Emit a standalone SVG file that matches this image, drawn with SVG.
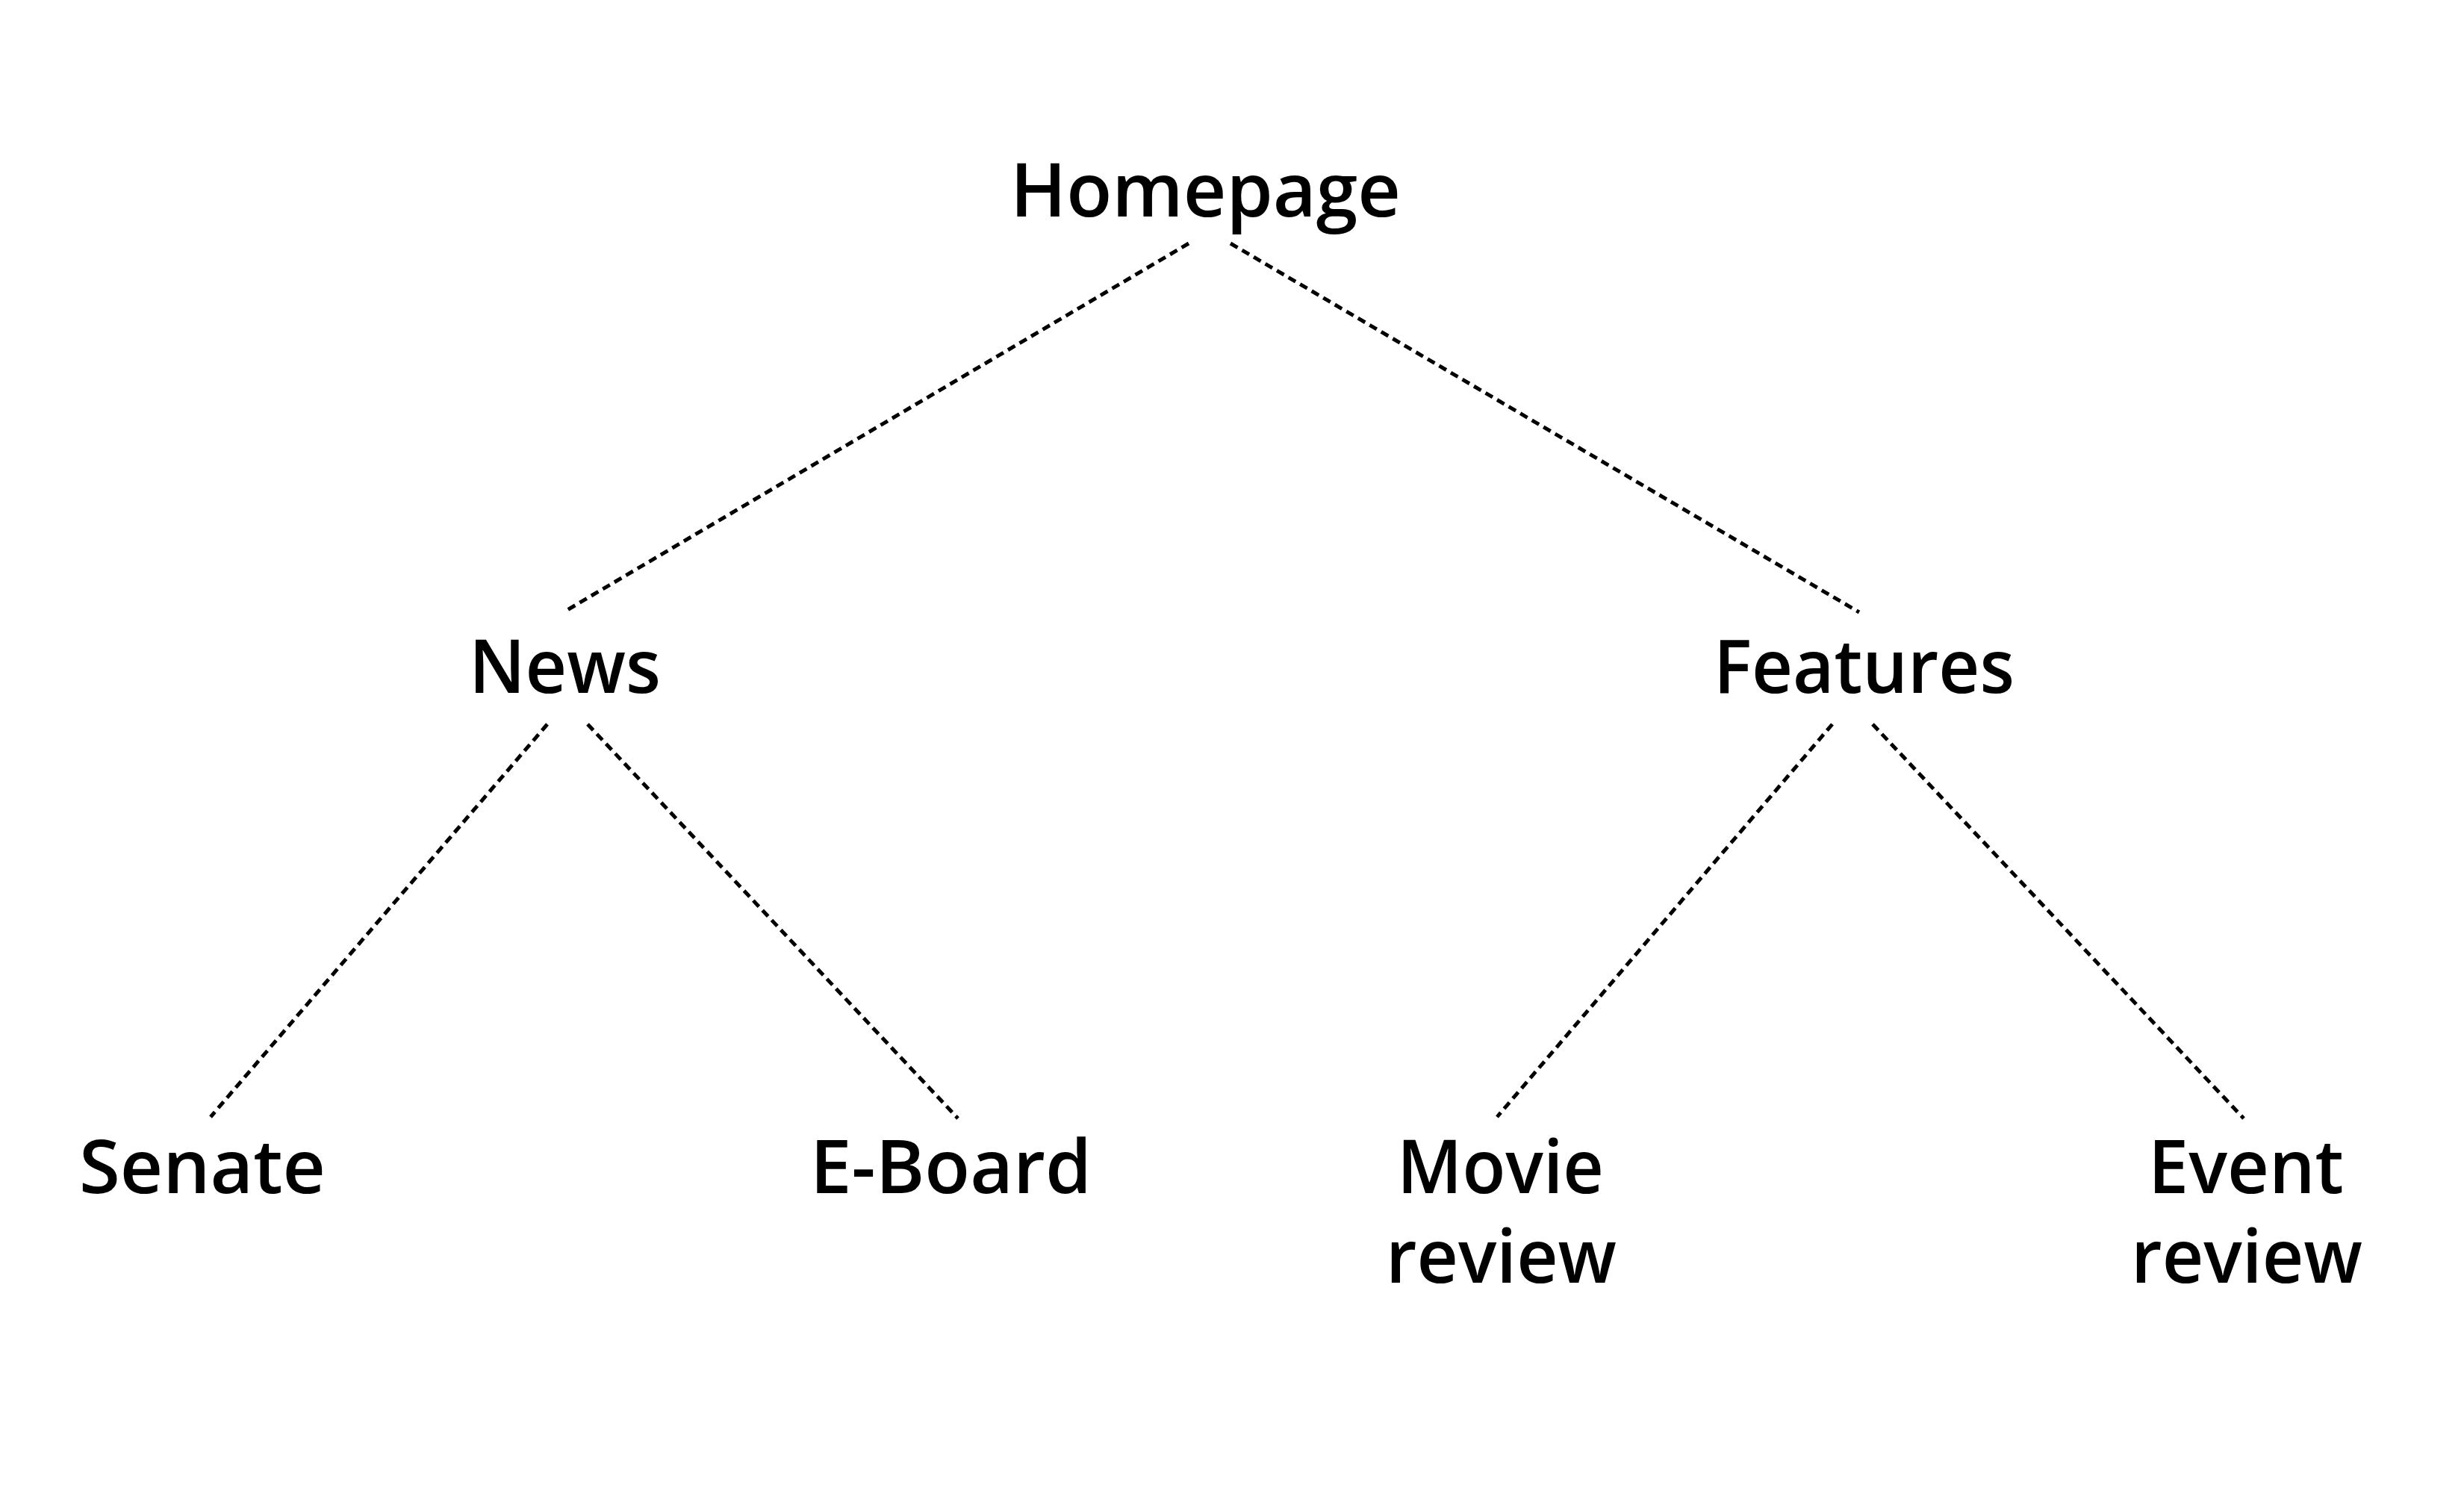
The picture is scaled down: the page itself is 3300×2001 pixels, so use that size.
<svg xmlns="http://www.w3.org/2000/svg" width="3300" height="2001" viewBox="0 0 3300 2001">
<style>
.lbl{font-family:"Open Sans","Lato","Liberation Sans",sans-serif;font-weight:600;font-size:100px;fill:#000}
.con{stroke:#000;stroke-width:5;stroke-dasharray:11 7;fill:none}
</style>
<rect width="3300" height="2001" fill="#fff"/>
<g id="connectors">
<line class="con" x1="1592" y1="326" x2="758" y2="818"/>
<line class="con" x1="1648" y1="326" x2="2490" y2="820"/>
<line class="con" x1="733" y1="970" x2="282" y2="1496"/>
<line class="con" x1="787" y1="970" x2="1283" y2="1498"/>
<line class="con" x1="2454" y1="970" x2="2005" y2="1496"/>
<line class="con" x1="2508" y1="970" x2="3005" y2="1498"/>
</g>
<g id="homepage"><text class="lbl" x="1353" y="290" textLength="523" lengthAdjust="spacingAndGlyphs">Homepage</text></g>
<g id="news"><text class="lbl" x="628" y="928" textLength="257" lengthAdjust="spacingAndGlyphs">News</text></g>
<g id="features"><text class="lbl" x="2295" y="928" textLength="403" lengthAdjust="spacingAndGlyphs">Features</text></g>
<g id="senate"><text class="lbl" x="106" y="1598" textLength="330" lengthAdjust="spacingAndGlyphs">Senate</text></g>
<g id="eboard"><text class="lbl" x="1085" y="1598" textLength="377" lengthAdjust="spacingAndGlyphs">E-Board</text></g>
<g id="movie-review"><text class="lbl" x="1871" y="1598" textLength="277" lengthAdjust="spacingAndGlyphs">Movie</text><text class="lbl" x="1856" y="1718" textLength="309" lengthAdjust="spacingAndGlyphs">review</text></g>
<g id="event-review"><text class="lbl" x="2877" y="1598" textLength="262" lengthAdjust="spacingAndGlyphs">Event</text><text class="lbl" x="2854" y="1718" textLength="310" lengthAdjust="spacingAndGlyphs">review</text></g>
</svg>
